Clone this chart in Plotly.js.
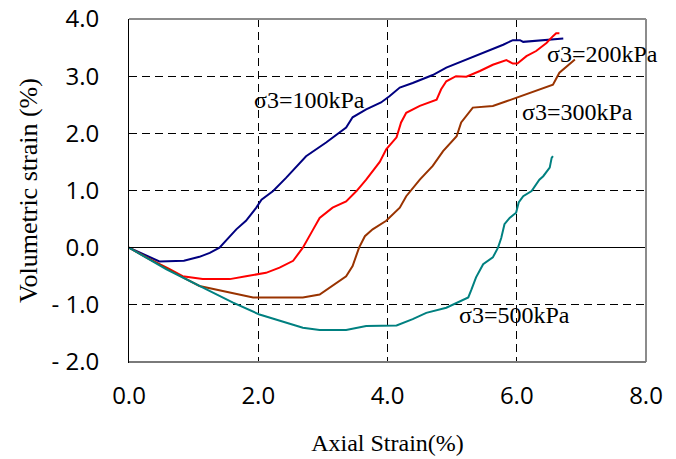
<!DOCTYPE html>
<html>
<head>
<meta charset="utf-8">
<script src="https://cdn.plot.ly/plotly-3.0.1.min.js"></script>
<style>html,body{margin:0;padding:0;background:#fff;}#chart{width:676px;height:459px;}</style>
</head>
<body>
<div id="chart"></div>
<script>
// Data
var strain100 = [0, 0.25, 0.47, 0.85, 1.09, 1.25, 1.40, 1.66, 1.81, 1.97, 2.05, 2.23, 2.43, 2.74, 3.05, 3.36, 3.46, 3.67, 3.90, 4.03, 4.19, 4.39, 4.70, 4.91, 5.22, 5.53, 5.79, 5.94, 6.05, 6.10, 6.72];
var vol100    = [0, -0.13, -0.24, -0.23, -0.16, -0.09, 0.0, 0.32, 0.47, 0.70, 0.84, 0.99, 1.22, 1.60, 1.84, 2.10, 2.28, 2.42, 2.54, 2.65, 2.80, 2.88, 3.02, 3.15, 3.29, 3.42, 3.55, 3.63, 3.63, 3.60, 3.66];

var strain200 = [0, 0.3, 0.6, 0.83, 1.14, 1.56, 1.81, 2.12, 2.33, 2.54, 2.69, 2.77, 2.85, 2.95, 3.15, 3.36, 3.52, 3.67, 3.88, 3.98, 4.14, 4.21, 4.29, 4.50, 4.76, 4.83, 4.91, 5.06, 5.22, 5.43, 5.63, 5.84, 5.94, 6.01, 6.15, 6.30, 6.46, 6.56, 6.61, 6.66];
var vol200    = [0, -0.19, -0.36, -0.50, -0.55, -0.55, -0.50, -0.44, -0.35, -0.23, 0.0, 0.17, 0.32, 0.52, 0.70, 0.81, 0.99, 1.19, 1.50, 1.72, 1.93, 2.19, 2.36, 2.48, 2.59, 2.77, 2.91, 3.00, 2.99, 3.09, 3.20, 3.28, 3.22, 3.22, 3.35, 3.44, 3.58, 3.70, 3.75, 3.75];

var strain300 = [0, 0.3, 0.6, 0.85, 1.09, 1.35, 1.61, 1.92, 2.12, 2.69, 2.95, 3.15, 3.36, 3.46, 3.54, 3.56, 3.65, 3.77, 3.98, 4.19, 4.29, 4.50, 4.70, 4.86, 5.07, 5.14, 5.32, 5.63, 5.84, 5.99, 6.30, 6.56, 6.66, 6.77, 6.90];
var vol300    = [0, -0.19, -0.37, -0.53, -0.67, -0.73, -0.79, -0.87, -0.87, -0.87, -0.82, -0.67, -0.50, -0.32, -0.06, 0.0, 0.20, 0.32, 0.47, 0.70, 0.90, 1.19, 1.43, 1.69, 1.95, 2.19, 2.45, 2.48, 2.56, 2.62, 2.74, 2.85, 3.06, 3.17, 3.29];

var strain500 = [0, 0.3, 0.58, 1.09, 1.61, 2.02, 2.33, 2.69, 2.95, 3.36, 3.67, 3.88, 4.14, 4.39, 4.60, 4.91, 5.25, 5.30, 5.37, 5.48, 5.63, 5.71, 5.76, 5.81, 5.89, 5.99, 6.03, 6.10, 6.23, 6.35, 6.41, 6.51, 6.54, 6.56];
var vol500    = [0, -0.19, -0.38, -0.67, -0.96, -1.17, -1.28, -1.40, -1.44, -1.44, -1.37, -1.37, -1.36, -1.25, -1.14, -1.05, -0.87, -0.73, -0.52, -0.29, -0.17, 0.0, 0.17, 0.41, 0.52, 0.61, 0.79, 0.90, 0.99, 1.19, 1.25, 1.40, 1.57, 1.60];

var xTickVals = [0, 2, 4, 6, 8];
var xTickText = ['0.0', '2.0', '4.0', '6.0', '8.0'];
var yTickVals = [-2, -1, 0, 1, 2, 3, 4];
var yTickText = ['- 2.0', '- 1.0', '0.0', '1.0', '2.0', '3.0', '4.0'];

var labelText = ['σ3=100kPa', 'σ3=200kPa', 'σ3=300kPa', 'σ3=500kPa'];
var labelX = [2.79, 7.33, 6.94, 5.97];
var labelY = [2.59, 3.38, 2.37, -1.18];

var colors = ['#000080', '#FF0000', '#993300', '#008080'];

function tr(x, y, c, name) {
  return {x: x, y: y, type: 'scatter', mode: 'lines', name: name,
          line: {color: c, width: 2, shape: 'linear'}, hoverinfo: 'x+y'};
}

var data = [
  tr(strain100, vol100, colors[0], labelText[0]),
  tr(strain200, vol200, colors[1], labelText[1]),
  tr(strain300, vol300, colors[2], labelText[2]),
  tr(strain500, vol500, colors[3], labelText[3])
];

var annotations = labelText.map(function (t, i) {
  return {x: labelX[i], y: labelY[i], xref: 'x', yref: 'y', text: t, showarrow: false,
          xanchor: 'center', yanchor: 'middle',
          font: {family: 'Liberation Serif, Times New Roman, serif', size: 24, color: '#000'}};
});

var layout = {
  width: 676, height: 459,
  margin: {l: 129, r: 30, t: 19, b: 97},
  paper_bgcolor: '#fff', plot_bgcolor: '#fff',
  showlegend: false,
  xaxis: {
    range: [0, 8], tickvals: xTickVals, ticktext: xTickText,
    showgrid: true, gridcolor: '#000', gridwidth: 1, griddash: '8px,5px',
    zeroline: false, showline: true, linecolor: '#000', linewidth: 1,
    ticks: 'inside', ticklen: 5, tickcolor: '#000', ticklabelstandoff: 12,
    tickfont: {family: 'Open Sans, Noto Sans, sans-serif', size: 24, color: '#000'},
    title: {text: 'Axial Strain(%)', standoff: 24,
            font: {family: 'Liberation Serif, Times New Roman, serif', size: 24, color: '#000'}}
  },
  yaxis: {
    range: [-2, 4], tickvals: yTickVals, ticktext: yTickText,
    showgrid: true, gridcolor: '#000', gridwidth: 1, griddash: '8px,5px',
    zeroline: true, zerolinecolor: '#000', zerolinewidth: 1,
    showline: true, linecolor: '#000', linewidth: 1,
    ticks: 'inside', ticklen: 5, tickcolor: '#000', ticklabelstandoff: 24,
    tickfont: {family: 'Open Sans, Noto Sans, sans-serif', size: 24, color: '#000'},
    title: {text: 'Volumetric strain (%)', standoff: 6,
            font: {family: 'Liberation Serif, Times New Roman, serif', size: 26, color: '#000'}}
  },
  shapes: [
    {type: 'line', xref: 'paper', yref: 'paper', x0: 0, x1: 1, y0: 1, y1: 1, line: {color: '#8c8c8c', width: 2}},
    {type: 'line', xref: 'paper', yref: 'paper', x0: 1, x1: 1, y0: 0, y1: 1, line: {color: '#8c8c8c', width: 2}},
    {type: 'line', xref: 'paper', yref: 'paper', x0: 0, x1: 1, y0: 0, y1: 0, line: {color: '#7a7a7a', width: 2}, layer: 'above'}
  ],
  annotations: annotations
};

Plotly.newPlot('chart', data, layout, {staticPlot: true, displayModeBar: false});
</script>
</body>
</html>
